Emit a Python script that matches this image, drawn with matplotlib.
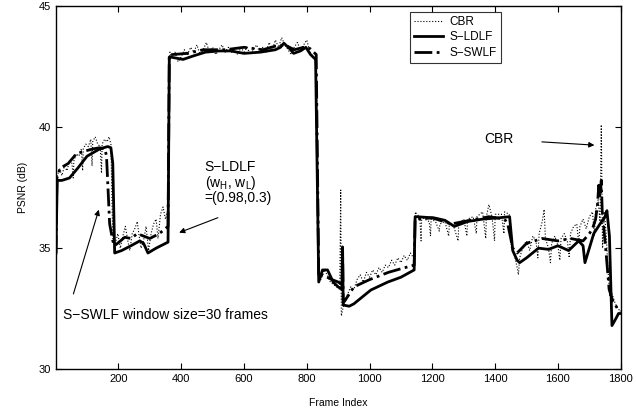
import matplotlib
matplotlib.use("Agg")
import matplotlib.pyplot as plt

plt.rcParams['font.family'] = ['Liberation Sans', 'DejaVu Sans']
plt.rcParams['mathtext.default'] = 'regular'

# CBR (dotted) as (frame, psnr) pairs
cbr_frames = [1, 4, 12, 20, 28, 36, 44, 52, 56, 58, 66, 74, 82, 86, 88, 96, 104, 112, 116, 118,
              126, 134, 142, 146, 148, 156, 164, 170, 176, 182,
              190, 198, 206, 214, 222, 230, 236, 244, 252, 260, 266, 272, 280, 288, 296, 304,
              312, 320, 326, 334, 342, 350, 356, 360,
              364, 370, 380, 390, 400, 410, 420, 430, 440, 450, 460, 470, 480, 490, 500, 510,
              520, 530, 540, 550, 560, 570, 580, 590, 600, 610, 620, 630, 640, 650, 660, 670,
              680, 690, 700, 710, 720, 730, 740, 750, 760, 770, 780, 790, 800, 810, 820, 830,
              838, 845, 855, 865, 875, 885, 895, 905, 908, 910, 915,
              920, 930, 940, 950, 960, 970, 980, 990, 1000, 1010, 1020, 1030, 1040, 1050, 1060,
              1070, 1080, 1090, 1100, 1110, 1120, 1130, 1140,
              1146, 1150, 1160, 1164, 1166, 1175, 1190, 1194, 1196, 1210, 1222, 1224, 1240, 1252,
              1254, 1268, 1282, 1284, 1300, 1310, 1312, 1330, 1340, 1342, 1360, 1370, 1372, 1380,
              1390, 1398, 1400, 1420, 1428, 1430, 1445, 1452,
              1460, 1470, 1474, 1478, 1490, 1500, 1510, 1520, 1530, 1536, 1540, 1550, 1556, 1560,
              1570, 1576, 1580, 1590, 1600, 1606, 1610, 1620, 1630, 1636, 1640, 1650, 1660, 1666,
              1670, 1680, 1690, 1700, 1710, 1716, 1720, 1728, 1734, 1738, 1742, 1748, 1754, 1760,
              1765, 1770, 1780, 1790, 1800]
cbr_psnr = [34.8, 37.9, 38.3, 38.0, 38.4, 38.2, 38.6, 38.5, 37.9, 38.6, 38.9, 38.8, 39.1, 38.2, 39.1,
            39.3, 39.2, 39.5, 38.4, 39.4, 39.6, 39.3, 39.2, 38.1, 39.3, 39.5, 39.4, 39.6, 39.3, 35.3,
            35.2, 35.6, 35.0, 35.5, 35.9, 35.3, 34.9, 35.6, 35.8, 36.1, 35.5, 35.0, 35.3, 35.9, 34.9,
            35.6, 36.0, 36.2, 35.4, 36.4, 36.7, 36.2, 36.5, 36.9,
            43.1, 42.9, 43.1, 42.7, 42.9, 43.2, 43.0, 43.3, 43.1, 43.4, 43.0, 43.2, 43.5, 43.1, 43.3,
            43.0, 43.2, 43.4, 43.1, 43.3, 43.1, 43.2, 43.0, 43.3, 43.1, 43.3, 43.0, 43.2, 43.4, 43.1,
            43.3, 43.1, 43.5, 43.2, 43.6, 43.3, 43.7, 43.4, 43.2, 43.0, 43.3, 43.5, 43.2, 43.4, 43.6,
            43.1, 42.9, 42.7,
            33.8, 33.7, 34.1, 33.9, 33.6, 33.5, 33.4, 33.3, 37.4, 32.2, 32.5,
            32.8, 33.1, 33.4, 33.3, 33.7, 33.9, 33.6, 34.0, 33.8, 34.1, 33.9, 34.2, 34.0, 34.3, 34.2,
            34.5, 34.3, 34.6, 34.4, 34.7, 34.5, 34.8, 34.6,
            36.5, 36.4, 36.3, 35.3, 36.3, 36.2, 36.1, 35.5, 36.2, 36.1, 35.7, 36.0, 36.1, 35.5,
            36.0, 35.9, 35.3, 36.0, 36.2, 35.5, 36.2, 36.3, 35.6, 36.3, 36.5, 35.4, 36.3, 36.8,
            36.3, 35.3, 36.4, 36.4, 35.6, 36.5, 36.4, 35.0,
            34.8, 34.2, 33.9, 34.6, 35.1, 35.3, 34.9, 35.5, 35.3, 34.6, 35.6, 36.1, 36.6, 35.4,
            35.0, 34.4, 35.2, 35.5, 35.1, 34.5, 35.4, 35.6, 35.3, 34.6, 35.6, 35.9, 36.0, 35.2,
            35.9, 36.2, 35.8, 36.3, 36.5, 35.5, 36.6, 37.0, 36.1, 40.1, 35.0, 36.5, 35.5, 34.0,
            33.0, 33.2, 32.8, 32.5, 32.4]

# S-LDLF (solid)
ldlf_frames = [1, 5, 20, 44, 70, 100, 140, 166, 176, 182, 188, 210, 240, 268, 280, 294, 320, 358,
               362, 365, 406, 440, 477, 520, 557, 600, 652, 700, 716, 727, 745, 758, 780, 797, 812,
               828, 838, 850, 866, 884, 900, 912, 914, 916, 935, 950, 1004, 1058, 1100, 1142,
               1145, 1150, 1206, 1240, 1270, 1312, 1360, 1408, 1446, 1456, 1470, 1478, 1500, 1538,
               1570, 1600, 1634, 1666, 1680, 1686, 1700, 1714, 1734, 1750, 1756, 1764, 1772,
               1785, 1793, 1800]
ldlf_psnr = [34.8, 37.8, 37.8, 37.9, 38.3, 38.8, 39.1, 39.2, 39.15, 38.5, 34.8, 34.9, 35.1, 35.3,
             35.2, 34.8, 35.0, 35.25, 42.9, 42.9, 42.8, 42.95, 43.1, 43.15, 43.15, 43.05, 43.1,
             43.2, 43.3, 43.47, 43.25, 43.05, 43.15, 43.3, 43.0, 42.8, 33.6, 34.1, 34.1, 33.6,
             33.4, 33.3, 35.05, 32.65, 32.6, 32.7, 33.27, 33.6, 33.8, 34.1, 36.3, 36.3, 36.25,
             36.15, 35.9, 36.1, 36.2, 36.25, 36.3, 34.9, 34.5, 34.4, 34.6, 35.0, 34.95, 35.1,
             34.9, 35.3, 35.1, 34.4, 35.0, 35.6, 36.0, 36.3, 36.55, 35.5, 31.8, 32.1, 32.3, 32.3]

# S-SWLF (dash-dot)
swlf_frames = [1, 4, 14, 40, 66, 90, 118, 140, 157, 162, 172, 182, 188, 220, 240, 260, 280, 300,
               330, 358, 362, 370, 420, 470, 540, 600, 660, 700, 730, 760, 790, 810, 830, 838,
               850, 865, 880, 900, 912, 914, 916, 920, 950, 1000, 1060, 1100, 1142, 1145, 1200,
               1260, 1320, 1380, 1430, 1440, 1456, 1470, 1500, 1550, 1600, 1640, 1680, 1700,
               1710, 1720, 1726, 1730, 1734, 1738, 1741, 1752, 1763, 1775, 1790, 1800]
swlf_psnr = [34.8, 37.9, 38.3, 38.5, 38.9, 39.0, 39.1, 39.15, 39.1, 38.8, 36.0, 35.3, 35.1, 35.45,
             35.4, 35.6, 35.5, 35.4, 35.6, 35.9, 43.0, 43.0, 43.05, 43.2, 43.2, 43.3, 43.2, 43.35,
             43.4, 43.2, 43.3, 43.25, 43.0, 33.8, 33.9, 33.8, 33.7, 33.6, 33.5, 34.8, 32.8, 32.8,
             33.4, 33.7, 34.0, 34.15, 34.3, 36.2, 36.25, 36.0, 36.15, 36.3, 36.2, 36.0, 35.0, 34.8,
             35.2, 35.4, 35.3, 35.4, 35.3, 35.6, 35.8, 36.2, 36.8, 37.6, 37.1, 37.8, 36.55, 35.0,
             33.3, 32.8, 32.5, 32.4]

fig = plt.figure(figsize=(6.36, 4.12), dpi=100)
ax = fig.add_axes([0.088, 0.104, 0.888, 0.881])

ax.plot(cbr_frames, cbr_psnr, ':', color='black', lw=0.8, label='CBR')
ax.plot(ldlf_frames, ldlf_psnr, '-', color='black', lw=2.0, label='S\u2212LDLF')
ax.plot(swlf_frames, swlf_psnr, '-.', color='black', lw=2.0, label='S\u2212SWLF')

ax.set_xlim(1, 1800)
ax.set_ylim(30, 45)
ax.set_xticks([200, 400, 600, 800, 1000, 1200, 1400, 1600, 1800])
ax.set_yticks([30, 35, 40, 45])
ax.tick_params(direction='in', top=True, right=True, labelsize=8, length=4)
for s in ax.spines.values():
    s.set_linewidth(1.0)
ax.set_xlabel('Frame Index', fontsize=7.5, labelpad=10)
ax.set_ylabel('PSNR (dB)', fontsize=7.5, labelpad=8)

leg = ax.legend(loc='upper left', bbox_to_anchor=(0.627, 0.985), fontsize=8.5,
                frameon=True, fancybox=False, edgecolor='black', handlelength=2.4,
                borderpad=0.35, labelspacing=0.3, handletextpad=0.6, borderaxespad=0)
leg.get_frame().set_linewidth(0.8)

ax.annotate('', xy=(385, 35.6), xytext=(525, 36.3),
            arrowprops=dict(arrowstyle='-|>', color='black', lw=0.8, mutation_scale=8))
ax.text(475, 37.7, 'S\u2212LDLF\n(w$_{H}$, w$_{L}$)\n=(0.98,0.3)', fontsize=10, va='center',
        ha='left', linespacing=0.95)

ax.annotate('', xy=(140, 36.7), xytext=(54, 33.0),
            arrowprops=dict(arrowstyle='-|>', color='black', lw=0.8, mutation_scale=8))
ax.text(22, 32.25, 'S\u2212SWLF window size=30 frames', fontsize=10, va='center', ha='left')

ax.annotate('', xy=(1725, 39.25), xytext=(1540, 39.4),
            arrowprops=dict(arrowstyle='-|>', color='black', lw=0.8, mutation_scale=8))
ax.text(1365, 39.5, 'CBR', fontsize=10, va='center', ha='left')

fig.savefig('out.png', dpi=100)
